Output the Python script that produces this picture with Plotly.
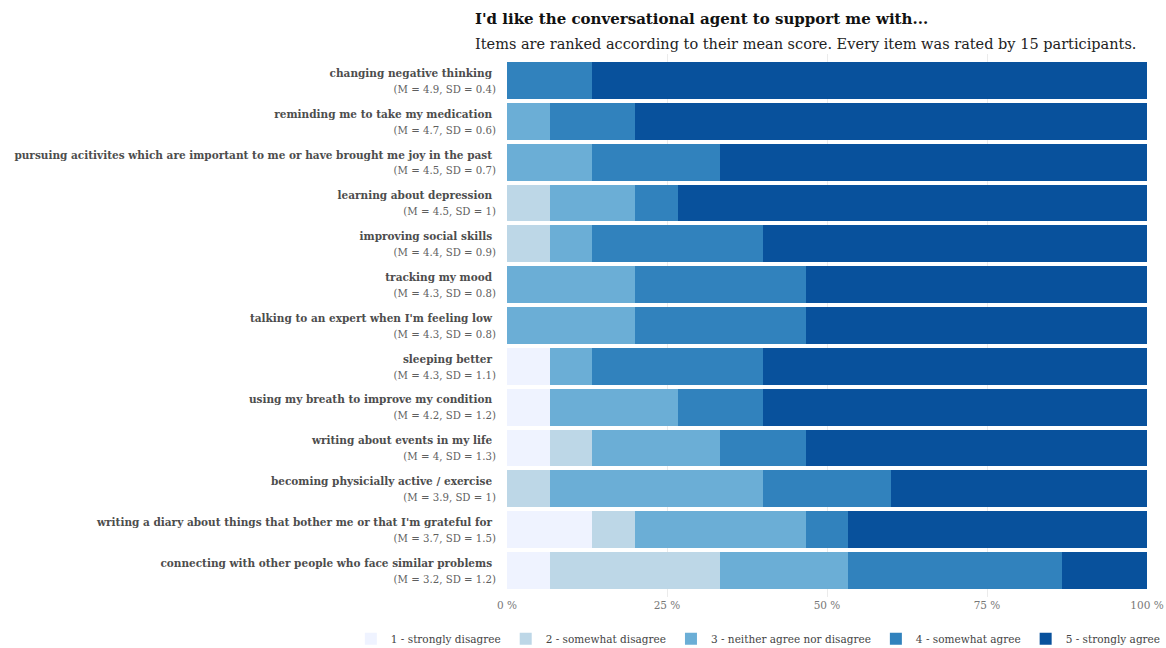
import plotly.graph_objects as go

items = [
    "changing negative thinking",
    "reminding me to take my medication",
    "pursuing acitivites which are important to me or have brought me joy in the past",
    "learning about depression",
    "improving social skills",
    "tracking my mood",
    "talking to an expert when I'm feeling low",
    "sleeping better",
    "using my breath to improve my condition",
    "writing about events in my life",
    "becoming physicially active / exercise",
    "writing a diary about things that bother me or that I'm grateful for",
    "connecting with other people who face similar problems",
]
means = ["4.9", "4.7", "4.5", "4.5", "4.4", "4.3", "4.3", "4.3", "4.2", "4", "3.9", "3.7", "3.2"]
sds = ["0.4", "0.6", "0.7", "1", "0.9", "0.8", "0.8", "1.1", "1.2", "1.3", "1", "1.5", "1.2"]

levels = ["1 - strongly disagree", "2 - somewhat disagree", "3 - neither agree nor disagree",
          "4 - somewhat agree", "5 - strongly agree"]
colors = ["#eff3ff", "#bdd7e7", "#6baed6", "#3182bd", "#08519c"]

# number of participants (of 15) choosing each level, per item
n1 = [0, 0, 0, 0, 0, 0, 0, 1, 1, 1, 0, 2, 1]
n2 = [0, 0, 0, 1, 1, 0, 0, 0, 0, 1, 1, 1, 4]
n3 = [0, 1, 2, 2, 1, 3, 3, 1, 3, 3, 5, 4, 3]
n4 = [2, 2, 3, 1, 4, 4, 4, 4, 2, 2, 3, 1, 5]
n5 = [13, 12, 10, 11, 9, 8, 8, 9, 9, 8, 6, 7, 2]
N = 15
counts = [n1, n2, n3, n4, n5]

ticktext = [
    f"<span style='font-size:10.5px;color:#4d4d4d'><b>{it}</b></span> "
    f"<br><span style='font-size:10.2px;color:#5f5f5f'>(M = {m}, SD = {s})</span>"
    for it, m, s in zip(items, means, sds)
]

FONT = "DejaVu Serif"
fig = go.Figure()
for lvl, col, cnt in zip(levels, colors, counts):
    fig.add_trace(go.Bar(
        y=items, x=[c / N * 100 for c in cnt], name=lvl, orientation="h",
        marker=dict(color=col, line=dict(width=0)), width=0.9,
        hoverinfo="x+name",
    ))

fig.update_layout(
    barmode="stack",
    width=1166, height=648,
    paper_bgcolor="white", plot_bgcolor="white",
    margin=dict(l=507, r=19, t=54, b=51, autoexpand=False),
    font=dict(family=FONT, color="#555555", size=11),
    xaxis=dict(range=[0, 100], tickvals=[0, 25, 50, 75, 100],
               ticktext=["0 %", "25 %", "50 %", "75 %", "100 %"],
               showgrid=True, gridcolor="#ebebeb", gridwidth=1, zeroline=False,
               showline=False, ticks="", tickfont=dict(size=10.5, color="#777777"),
               automargin=False, fixedrange=True),
    yaxis=dict(categoryorder="array", categoryarray=items, autorange=False,
               range=[12.65, -0.65], automargin=False,
               tickvals=items, ticktext=ticktext, showgrid=False, zeroline=False,
               ticks="", tickfont=dict(size=12.3, color="#555555"), ticklabelstandoff=10),
    legend=dict(orientation="h", x=-0.244, xanchor="left", y=-0.05, yanchor="top",
                font=dict(size=10.5, color="#444444"), traceorder="normal"),
    bargap=0.1,
    annotations=[
        dict(text="<b>I'd like the conversational agent to support me with...</b>",
             xref="paper", yref="paper", x=-0.053, xanchor="left", y=1.0, yanchor="bottom",
             yshift=24, showarrow=False, font=dict(size=15, color="#111111", family=FONT)),
        dict(text="Items are ranked according to their mean score. Every item was rated by 15 participants.",
             xref="paper", yref="paper", x=-0.053, xanchor="left", y=1.0, yanchor="bottom",
             yshift=0, showarrow=False, font=dict(size=14.5, color="#222222", family=FONT)),
    ],
)

fig.write_html("out.html", config={"displayModeBar": False},
               post_script="document.body.style.margin='0';document.body.style.overflow='hidden';")
